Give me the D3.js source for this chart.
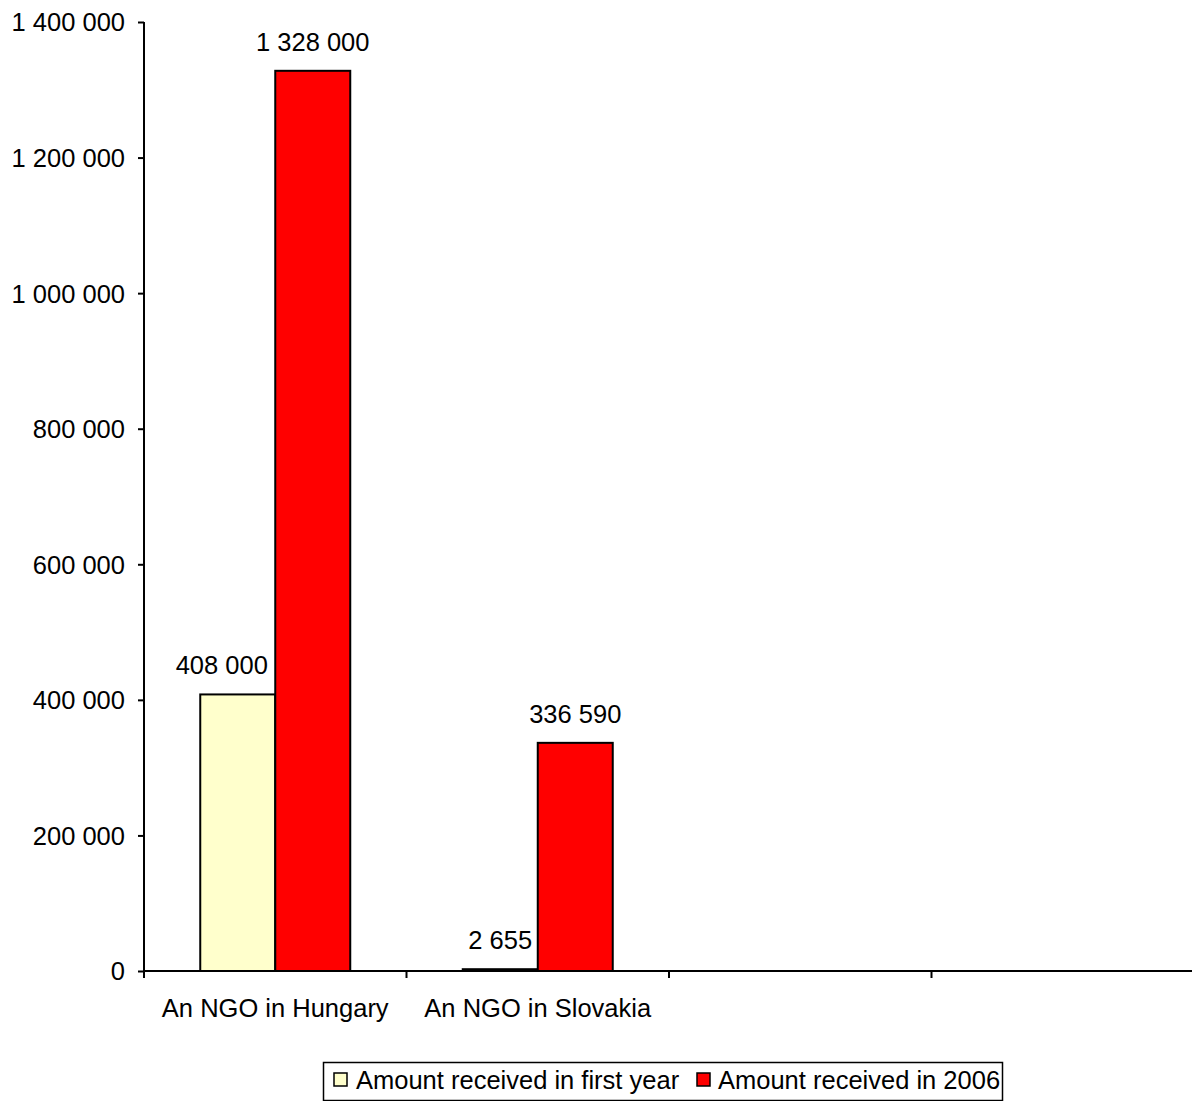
<!DOCTYPE html>
<html>
<head>
<meta charset="utf-8">
<script src="https://cdn.jsdelivr.net/npm/d3@7"></script>
<style>
  html, body { margin: 0; padding: 0; background: #fff; }
  svg { display: block; font-family: "Liberation Sans", Arial, sans-serif; }
</style>
</head>
<body>
<svg id="chart" width="1192" height="1101"></svg>
<script>
// Category slots on the x axis (two trailing slots are empty)
const categories = ["An NGO in Hungary", "An NGO in Slovakia", "", ""];
const seriesNames = ["Amount received in first year", "Amount received in 2006"];
const firstYear = [408000, 2655, null, null];
const year2006 = [1328000, 336590, null, null];
const yTicks = [0, 200000, 400000, 600000, 800000, 1000000, 1200000, 1400000];
const colors = ["#FFFFCC", "#FF0000"];
// small horizontal nudges for the value labels (px)
const labelShift = [[-16, 0], [0, 0], [0, 0], [0, 0]];

const svg = d3.select("#chart");
const plotLeft = 144, plotRight = 1194, plotTop = 22, plotBottom = 971;
const fontSize = 25.5;
const fmt = v => d3.format(",")(v).replace(/,/g, " ");

const x = d3.scaleBand().domain(d3.range(categories.length)).range([plotLeft, plotRight]).paddingInner(0).paddingOuter(0);
const inner = d3.scaleBand().domain([0, 1]).range([0, x.bandwidth()]).paddingOuter(0.75).paddingInner(0);
const y = d3.scaleLinear().domain([0, 1400000]).range([plotBottom, plotTop]);

// y axis
const yAxis = svg.append("g").attr("transform", `translate(${plotLeft},0)`)
  .call(d3.axisLeft(y).tickValues(yTicks).tickFormat(fmt).tickSize(6).tickPadding(13));
yAxis.select(".domain").attr("stroke", "#000").attr("stroke-width", 2).attr("d", `M0,${plotTop}V${plotBottom}`);
yAxis.selectAll(".tick line").attr("stroke", "#000").attr("stroke-width", 2);
yAxis.selectAll(".tick text").attr("font-size", fontSize).attr("fill", "#000")
  .attr("font-family", "'Liberation Sans', Arial, sans-serif").attr("dy", "0.35em");

// bars
const series = [firstYear, year2006];
series.forEach((vals, s) => {
  svg.append("g").selectAll("rect")
    .data(vals.map((v, i) => ({ v, i })).filter(d => d.v != null))
    .join("rect")
    .attr("x", d => x(d.i) + inner(s))
    .attr("width", inner.bandwidth())
    .attr("y", d => y(d.v))
    .attr("height", d => plotBottom - y(d.v))
    .attr("fill", colors[s])
    .attr("stroke", "#000")
    .attr("stroke-width", 2);
});

// value labels
series.forEach((vals, s) => {
  svg.append("g").selectAll("text")
    .data(vals.map((v, i) => ({ v, i })).filter(d => d.v != null))
    .join("text")
    .attr("x", d => x(d.i) + inner(s) + inner.bandwidth() / 2 + labelShift[d.i][s])
    .attr("y", d => y(d.v) - 20)
    .attr("text-anchor", "middle")
    .attr("font-size", fontSize)
    .attr("fill", "#000")
    .text(d => fmt(d.v));
});

// x axis
const xAxis = svg.append("g").attr("transform", `translate(0,${plotBottom})`);
xAxis.append("line").attr("x1", plotLeft).attr("x2", plotRight).attr("stroke", "#000").attr("stroke-width", 2);
xAxis.selectAll(".xt").data(d3.range(categories.length)).join("line")
  .attr("class", "xt")
  .attr("x1", i => x(i)).attr("x2", i => x(i)).attr("y1", 0).attr("y2", 7)
  .attr("stroke", "#000").attr("stroke-width", 2);
xAxis.selectAll(".xl").data(categories).join("text")
  .attr("class", "xl")
  .attr("x", (d, i) => x(i) + x.bandwidth() / 2)
  .attr("y", 46)
  .attr("text-anchor", "middle")
  .attr("font-size", fontSize)
  .attr("fill", "#000")
  .text(d => d);

// legend
const lg = svg.append("g");
lg.append("rect").attr("x", 323.5).attr("y", 1062.5).attr("width", 679).attr("height", 38)
  .attr("fill", "#fff").attr("stroke", "#000").attr("stroke-width", 1.5);
const items = [{ sx: 334, tx: 356 }, { sx: 697, tx: 718 }];
seriesNames.forEach((name, i) => {
  lg.append("rect").attr("x", items[i].sx).attr("y", 1073).attr("width", 13).attr("height", 13)
    .attr("fill", colors[i]).attr("stroke", "#000").attr("stroke-width", 1.5);
  lg.append("text").attr("x", items[i].tx).attr("y", 1089).attr("font-size", fontSize).attr("fill", "#000").text(name);
});
</script>
</body>
</html>
